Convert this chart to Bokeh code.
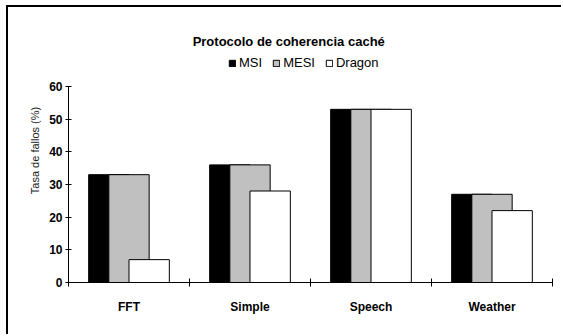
from bokeh.plotting import figure
from bokeh.models import (Range1d, FixedTicker, Label, Legend, LegendItem)
from bokeh.embed import file_html
from bokeh.resources import INLINE
import numpy as np

# Miss rate (%) per benchmark for each coherence protocol
categories = ["FFT", "Simple", "Speech", "Weather"]
msi = [33, 36, 53, 27]
mesi = [33, 36, 53, 27]
dragon = [7, 28, 53, 22]
series_names = ["MSI", "MESI", "Dragon"]
series_colors = ["#000000", "#C0C0C0", "#FFFFFF"]
y_ticks = [0, 10, 20, 30, 40, 50, 60]

NARROW = "Liberation Sans Narrow, Arial Narrow, Liberation Sans"
PLAIN = "Liberation Sans"

Y_TOP = 80.8  # data headroom above the axis for title and legend

p = figure(width=555, height=329, output_backend="svg", toolbar_location=None,
           x_range=Range1d(0, len(categories)), y_range=Range1d(0, Y_TOP),
           min_border_left=60, min_border_right=11, min_border_top=11,
           min_border_bottom=54)
p.styles = {"margin-left": "6px", "margin-top": "5px",
            "border-left": "2px solid black", "border-top": "2px solid black"}
p.outline_line_color = None
p.xgrid.visible = False
p.ygrid.visible = False
p.background_fill_color = "white"
p.border_fill_color = "white"

centers = np.arange(len(categories)) + 0.5
bar_w = 1 / 3
offsets = [-1 / 6, 0.0, 1 / 6]
renderers = []
for vals, off, col in zip([msi, mesi, dragon], offsets, series_colors):
    r = p.vbar(x=centers + off, top=vals, width=bar_w, bottom=0,
               fill_color=col, line_color="black", line_width=1)
    renderers.append(r)

# x axis: labels at category centres, tick marks at the category boundaries
xa = p.xaxis[0]
xa.ticker = FixedTicker(ticks=list(centers),
                        minor_ticks=list(range(len(categories) + 1)))
xa.major_label_overrides = {float(c): name for c, name in zip(centers, categories)}
xa.major_tick_line_color = None
xa.minor_tick_line_color = "black"
xa.minor_tick_in = 4
xa.minor_tick_out = 4
xa.axis_line_color = "black"
xa.major_label_text_font = NARROW
xa.major_label_text_font_style = "bold"
xa.major_label_text_font_size = "12px"
xa.major_label_text_color = "black"
xa.major_label_standoff = 11

ya = p.yaxis[0]
ya.bounds = (0, 60)
ya.ticker = FixedTicker(ticks=y_ticks, minor_ticks=[])
ya.major_tick_in = 3
ya.major_tick_out = 3
ya.major_tick_line_color = "black"
ya.axis_line_color = "black"
ya.major_label_text_font = NARROW
ya.major_label_text_font_style = "bold"
ya.major_label_text_font_size = "12px"
ya.major_label_text_color = "black"
ya.major_label_standoff = 3
ya.axis_label = "Tasa de fallos (%)"
ya.axis_label_text_font = PLAIN
ya.axis_label_text_font_style = "normal"
ya.axis_label_text_font_size = "11px"
ya.axis_label_text_color = "#222222"
ya.axis_label_standoff = 5

title = Label(x=1.82, y=73.8, text="Protocolo de coherencia caché",
              text_align="center", text_baseline="middle",
              text_font=NARROW, text_font_style="bold", text_font_size="13px",
              text_color="black")
p.add_layout(title)

legend = Legend(items=[LegendItem(label=n, renderers=[r])
                       for n, r in zip(series_names, renderers)],
                orientation="horizontal", location=(160, 212),
                glyph_width=8, glyph_height=8, label_standoff=3, spacing=10,
                padding=0, margin=0, border_line_color=None,
                background_fill_alpha=0,
                label_text_font=NARROW, label_text_font_size="13px",
                label_text_color="black", label_height=12)
p.add_layout(legend, "center")

open("out.html", "w").write(file_html(p, INLINE))
